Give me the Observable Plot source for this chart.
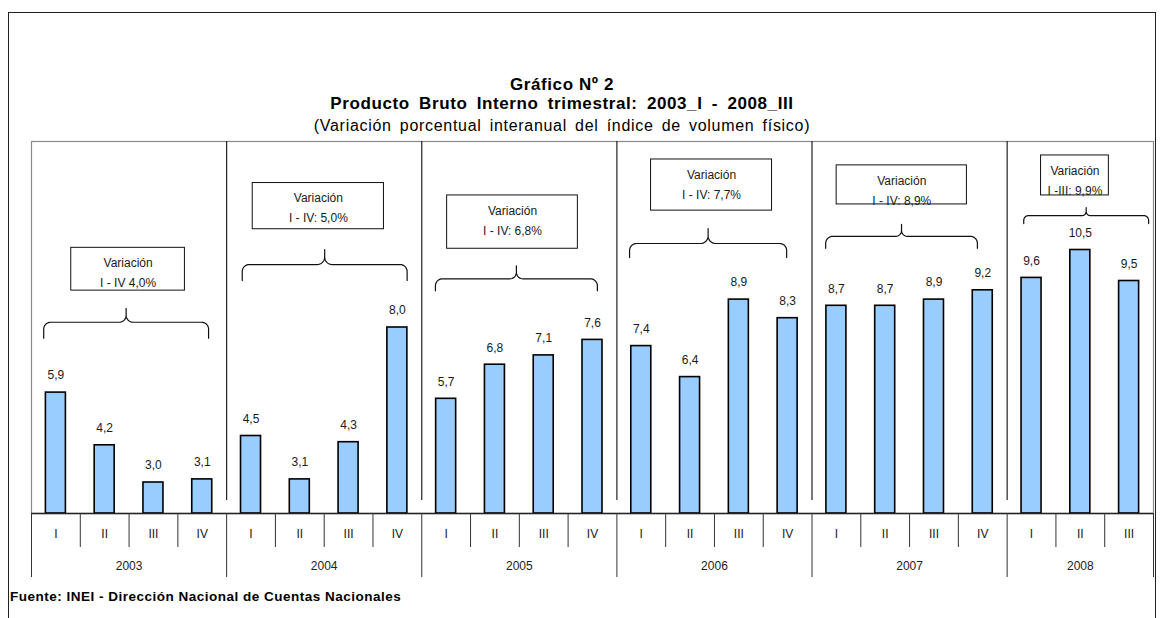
<!DOCTYPE html>
<html>
<head>
<meta charset="utf-8">
<script src="https://cdn.jsdelivr.net/npm/d3@7"></script>
<script src="https://cdn.jsdelivr.net/npm/@observablehq/plot@0.6"></script>
<style>
  body { margin: 0; background: #fff; font-family: "Liberation Sans", Arial, sans-serif; }
  #wrap { position: relative; width: 1162px; height: 618px; overflow: hidden; background: #fff; }
  #frame { position: absolute; left: 8px; top: 12px; width: 1148px; height: 640px; border: 1px solid #222; box-sizing: border-box; }
  .t { position: absolute; left: 0; width: 1124px; text-align: center; color: #000; white-space: nowrap; }
  #t1 { top: 75px; font-size: 17px; font-weight: bold; letter-spacing: 0.6px; }
  #t2 { top: 94px; font-size: 17px; font-weight: bold; letter-spacing: 0.6px; word-spacing: 4px; }
  #t3 { top: 117px; font-size: 16px; letter-spacing: 0.7px; word-spacing: 3px; }
  #chart { position: absolute; left: 0; top: 131px; }
  #src { position: absolute; left: 10px; top: 589px; font-size: 13.5px; font-weight: bold; letter-spacing: 0.5px; color: #000; }
</style>
</head>
<body>
<div id="wrap">
  <div id="frame"></div>
  <div class="t" id="t1">Gráfico Nº 2</div>
  <div class="t" id="t2">Producto Bruto Interno trimestral: 2003_I - 2008_III</div>
  <div class="t" id="t3">(Variación porcentual interanual del índice de volumen físico)</div>
  <div id="chart"></div>
  <div id="src">Fuente: INEI - Dirección Nacional de Cuentas Nacionales</div>
</div>
<script>
// ---- data ----
const years = ["2003", "2004", "2005", "2006", "2007", "2008"];
const quarters = ["I", "II", "III", "IV"];
const barsPerYear = [4, 4, 4, 4, 4, 3];
const values = [
  5.9, 4.2, 3.0, 3.1,
  4.5, 3.1, 4.3, 8.0,
  5.7, 6.8, 7.1, 7.6,
  7.4, 6.4, 8.9, 8.3,
  8.7, 8.7, 8.9, 9.2,
  9.6, 10.5, 9.5
];
const annualLabels = ["I - IV 4,0%", "I - IV: 5,0%", "I - IV: 6,8%", "I - IV: 7,7%", "I - IV: 8,9%", "I -III: 9,9%"];

// ---- annotation layout (category units on x, value units on y) ----
const braceLayout = [
  {from: -0.25, to: 3.13,  level: 8.17,  drop: 16, tip: 14, boxX: 1.48,  boxW: 2.33, boxTop: 10.57, boxBottom: 9.19},
  {from: 3.82,  to: 7.20,  level: 10.03, drop: 16, tip: 15, boxX: 5.38,  boxW: 2.69, boxTop: 12.66, boxBottom: 11.17},
  {from: 7.78,  to: 11.10, level: 9.57,  drop: 12, tip: 13, boxX: 9.36,  boxW: 2.68, boxTop: 12.26, boxBottom: 10.54},
  {from: 11.76, to: 14.98, level: 10.71, drop: 14, tip: 15, boxX: 13.44, boxW: 2.48, boxTop: 13.42, boxBottom: 11.77},
  {from: 15.78, to: 18.89, level: 10.94, drop: 12, tip: 12, boxX: 17.34, boxW: 2.67, boxTop: 13.23, boxBottom: 11.97},
  {from: 19.84, to: 22.40, level: 11.61, drop: 8,  tip: 8,  boxX: 20.89, boxW: 1.39, boxTop: 13.55, boxBottom: 12.26}
];

// ---- build rows ----
const rows = [];
years.forEach((y, yi) => {
  for (let q = 0; q < barsPerYear[yi]; q++) {
    rows.push({i: rows.length, year: y, q: quarters[q], v: values[rows.length]});
  }
});
const n = rows.length;
const yearInfo = years.map((y, yi) => {
  const idx = rows.filter(r => r.year === y).map(r => r.i);
  return {year: y, start: idx[0] - 0.5, end: idx[idx.length - 1] + 0.5, mid: (idx[0] + idx[idx.length - 1]) / 2};
});

// ---- layout ----
const W = 1162, H = 450, mL = 31, mR = 9, mT = 10, mB = 68;
const yMin = 2, yMax = 14;
const pxX = (W - mL - mR) / n;
const pxY = (H - mT - mB) / (yMax - yMin);
const barW = 20 / pxX;
const fmt = v => v.toFixed(1).replace(".", ",");

const allBounds = d3.range(n + 1).map(k => k - 0.5);
const yearBounds = [yearInfo[0].start, ...yearInfo.map(d => d.end)];
const quarterBounds = allBounds.filter(b => !yearBounds.includes(b));
const separators = yearInfo.slice(1).map(d => d.start);

// brace polylines
function bracePoints(b, k) {
  const ux = 1 / pxX, uy = 1 / pxY, pts = [];
  const L = b.from, R = b.to, C = (L + R) / 2, Hy = b.level;
  const r = Math.min(7, b.drop * 0.6), r2 = b.tip * 0.5;
  const arc = (cx, cy, a0, a1, rad) => {
    for (let s = 0; s <= 10; s++) {
      const a = a0 + (a1 - a0) * s / 10;
      pts.push({x: cx + Math.cos(a) * rad * ux, y: cy + Math.sin(a) * rad * uy, k});
    }
  };
  pts.push({x: L, y: Hy - b.drop * uy, k});
  arc(L + r * ux, Hy - r * uy, Math.PI, Math.PI / 2, r);
  arc(C - r2 * ux, Hy + r2 * uy, -Math.PI / 2, 0, r2);
  pts.push({x: C, y: Hy + b.tip * uy, k});
  arc(C + r2 * ux, Hy + r2 * uy, Math.PI, 1.5 * Math.PI, r2);
  arc(R - r * ux, Hy - r * uy, Math.PI / 2, 0, r);
  pts.push({x: R, y: Hy - b.drop * uy, k});
  return pts;
}
const braces = braceLayout.flatMap((b, k) => bracePoints(b, k));
const boxes = braceLayout.map((b, k) => ({...b, label: "Variación\n" + annualLabels[k]}));

const chart = Plot.plot({
  width: W, height: H,
  marginLeft: mL, marginRight: mR, marginTop: mT, marginBottom: mB,
  x: {type: "linear", domain: [-0.5, n - 0.5], axis: null},
  y: {type: "linear", domain: [yMin, yMax], axis: null},
  style: {fontFamily: "'Liberation Sans', Arial, sans-serif", fontSize: "12px", background: "transparent", overflow: "visible"},
  marks: [
    Plot.frame({stroke: "#8a8a8a", strokeWidth: 1.2}),
    Plot.ruleX(separators, {y1: yMax, y2: yMin + 13 / pxY, stroke: "#222", strokeWidth: 1.2}),
    Plot.rect(rows, {x1: d => d.i - barW / 2, x2: d => d.i + barW / 2, y1: yMin, y2: "v", fill: "#99CCFF", stroke: "#000", strokeWidth: 1.6}),
    Plot.text(rows, {x: "i", y: "v", text: d => fmt(d.v), dy: -17, fill: "#1a1a1a", fontSize: 12}),
    Plot.line(braces, {x: "x", y: "y", z: "k", stroke: "#111", strokeWidth: 1.2}),
    Plot.rect(boxes, {x1: d => d.boxX - d.boxW / 2, x2: d => d.boxX + d.boxW / 2, y1: "boxBottom", y2: "boxTop", fill: "white", stroke: "#111", strokeWidth: 1}),
    Plot.text(boxes, {x: "boxX", y: "boxTop", dy: 23, text: "label", lineHeight: 1.67, fontSize: 12, fill: "#1a1a1a"}),
    Plot.ruleY([yMin], {stroke: "#222", strokeWidth: 1.3}),
    Plot.ruleX(quarterBounds, {y1: yMin, y2: yMin, insetBottom: -34, stroke: "#333", strokeWidth: 1}),
    Plot.ruleX(yearBounds, {y1: yMin, y2: yMin, insetBottom: -64, stroke: "#333", strokeWidth: 1}),
    Plot.text(rows, {x: "i", y: yMin, text: "q", dy: 21, fontSize: 12, fill: "#222"}),
    Plot.text(yearInfo, {x: "mid", y: yMin, text: "year", dy: 53, fontSize: 12, fill: "#222"})
  ]
});
document.getElementById("chart").appendChild(chart);
</script>
</body>
</html>
